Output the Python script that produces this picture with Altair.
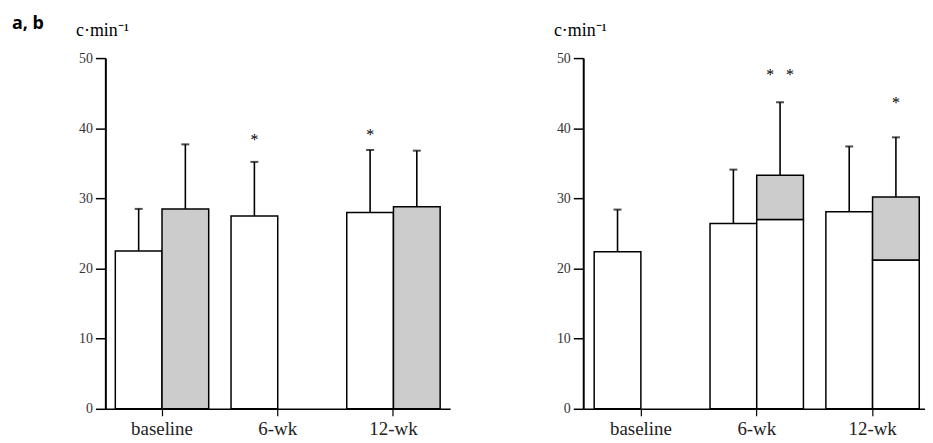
import altair as alt
import pandas as pd

cats = ["baseline", "6-wk", "12-wk"]
series = ["A", "B"]

# panel a
a_white = [22.5, 27.5, 28.0]
a_white_err = [28.5, 35.2, 36.9]
a_grey = [28.5, None, 28.8]
a_grey_err = [37.7, None, 36.8]
a_star_cat = ["6-wk", "12-wk"]
a_star_series = ["A", "A"]
a_star_y = [38.9, 39.6]
a_star_text = ["*", "*"]

# panel b
b_white = [22.4, 26.4, 28.1]
b_white_err = [28.4, 34.1, 37.4]
b_grey_low = [None, 27.0, 21.2]
b_grey_top = [None, 33.3, 30.2]
b_grey_err = [None, 43.7, 38.7]
b_star_cat = ["6-wk", "12-wk"]
b_star_series = ["B", "B"]
b_star_y = [48.2, 44.2]
b_star_text = ["*\u00a0\u00a0\u00a0*", "*"]

GREY = "#cccccc"
SERIF = "Times New Roman, Liberation Serif, serif"


def seg_a():
    rows, errs = [], []
    for i, c in enumerate(cats):
        rows.append(dict(cat=c, s="A", lo=0, hi=a_white[i], fill="white"))
        errs.append(dict(cat=c, s="A", hi=a_white[i], err=a_white_err[i]))
        if a_grey[i] is not None:
            rows.append(dict(cat=c, s="B", lo=0, hi=a_grey[i], fill=GREY))
            errs.append(dict(cat=c, s="B", hi=a_grey[i], err=a_grey_err[i]))
    stars = pd.DataFrame(dict(cat=a_star_cat, s=a_star_series, y=a_star_y, t=a_star_text))
    return pd.DataFrame(rows), pd.DataFrame(errs), stars


def seg_b():
    rows, errs = [], []
    for i, c in enumerate(cats):
        rows.append(dict(cat=c, s="A", lo=0, hi=b_white[i], fill="white"))
        errs.append(dict(cat=c, s="A", hi=b_white[i], err=b_white_err[i]))
        if b_grey_top[i] is not None:
            rows.append(dict(cat=c, s="B", lo=0, hi=b_grey_low[i], fill="white"))
            rows.append(dict(cat=c, s="B", lo=b_grey_low[i], hi=b_grey_top[i], fill=GREY))
            errs.append(dict(cat=c, s="B", hi=b_grey_top[i], err=b_grey_err[i]))
    stars = pd.DataFrame(dict(cat=b_star_cat, s=b_star_series, y=b_star_y, t=b_star_text))
    return pd.DataFrame(rows), pd.DataFrame(errs), stars


def panel(seg, err, stars, width, po, align, title=None):
    x = alt.X(
        "cat:N",
        sort=cats,
        scale=alt.Scale(domain=cats, paddingInner=0.193, paddingOuter=po, align=align),
        axis=alt.Axis(
            title=None, labelAngle=0, labelFont=SERIF, labelFontSize=19,
            labelColor="#222", labelPadding=4, domainColor="black", domainWidth=1.5,
            tickColor="black", tickSize=7, tickWidth=1.2,
        ),
    )
    xo = alt.XOffset("s:N", scale=alt.Scale(domain=series, paddingInner=0, paddingOuter=0))
    yscale = alt.Scale(domain=[0, 50], nice=False)
    yaxis = alt.Axis(
        values=[0, 10, 20, 30, 40, 50], grid=False, domainColor="black", domainWidth=2,
        tickColor="black", tickWidth=1.5, tickSize=10, labelFont=SERIF, labelFontSize=14,
        labelColor="#333", labelPadding=3, title="c·min⁻¹", titleAngle=0,
        titleAlign="left", titleX=-30, titleY=-23, titleBaseline="alphabetic",
        titleFont=SERIF, titleFontSize=18, titleFontWeight="normal", titleColor="black",
    )
    bars = alt.Chart(seg).mark_bar(stroke="black", strokeWidth=1.5).encode(
        x=x, xOffset=xo,
        y=alt.Y("lo:Q", scale=yscale, axis=yaxis), y2="hi:Q",
        fill=alt.Fill("fill:N", scale=None),
    )
    rules = alt.Chart(err).mark_rule(color="black", strokeWidth=1.6).encode(
        x=x, xOffset=xo, y=alt.Y("hi:Q", scale=yscale), y2="err:Q"
    )
    caps = alt.Chart(err).mark_tick(color="black", size=8, thickness=2).encode(
        x=x, xOffset=xo, y=alt.Y("err:Q", scale=yscale)
    )
    st = alt.Chart(stars).mark_text(font=SERIF, fontSize=16, baseline="middle", dy=4, color="black").encode(
        x=x, xOffset=xo, y=alt.Y("y:Q", scale=yscale), text="t:N"
    )
    props = dict(width=width, height=353)
    if title is not None:
        props["title"] = title
    return alt.layer(bars, rules, caps, st).properties(**props)


sa, ea, sta = seg_a()
sb, eb, stb = seg_b()

title = alt.TitleParams(
    "a, b", anchor="start", frame="group", font="Open Sans", fontSize=18,
    fontWeight="bold", color="black", dx=-94, dy=12, offset=0,
)

left = panel(sa, ea, sta, 347, 0.086, 0.5, title=title)
right = panel(sb, eb, stb, 344, 0.0716, 0.66)

chart = alt.hconcat(left, right, bounds="flush", spacing=134).properties(
    padding={"left": 4, "top": 6, "right": 0, "bottom": 0}
).configure_view(stroke=None)

chart.save("out.html", embed_options={"renderer": "svg", "actions": False})
